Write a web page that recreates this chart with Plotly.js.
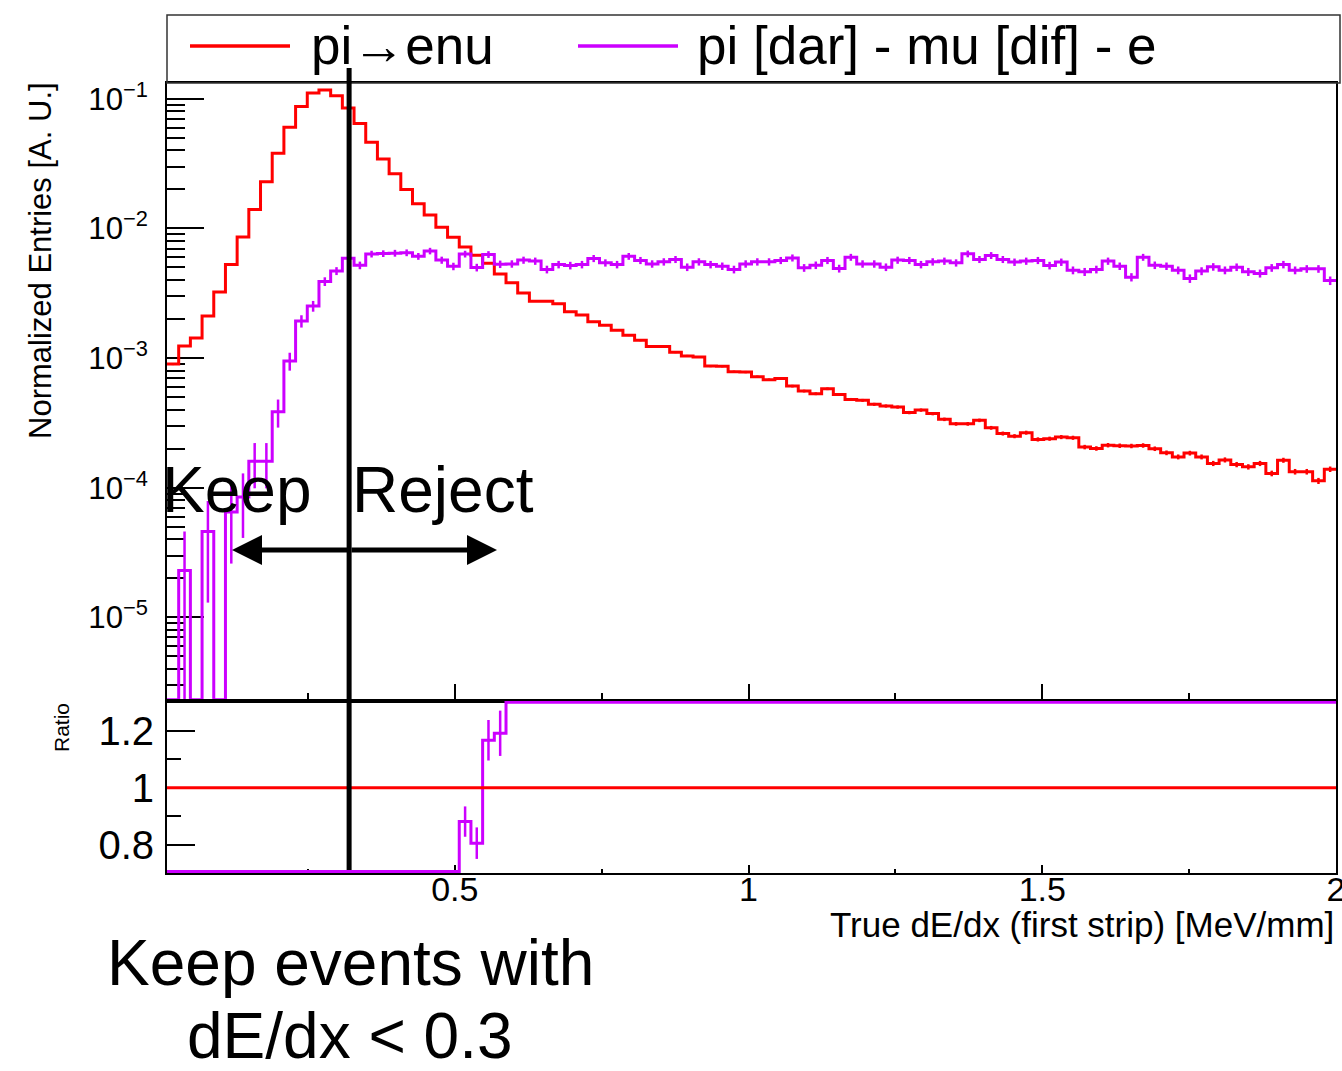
<!DOCTYPE html>
<html>
<head>
<meta charset="utf-8">
<script src="https://cdn.plot.ly/plotly-3.0.1.min.js"></script>
<style>
html,body{margin:0;padding:0;background:#ffffff;}
#chart{width:1342px;height:1071px;}
</style>
</head>
<body>
<div id="chart"></div>
<script>
// ---------------- data ----------------
const xMin = 0.01;
const xMax = 2.0;
const nBins = 100;
const cutValue = 0.32;

const seriesNames = ["pi\u2192enu", "pi [dar] - mu [dif] - e"];

// pi -> e nu, normalized entries per bin
const piEnu = [
  9.0e-4, 1.24e-3, 1.43e-3, 2.11e-3, 3.23e-3, 5.28e-3, 8.6e-3, 1.40e-2, 2.29e-2, 3.80e-2,
  6.04e-2, 8.73e-2, 0.111, 0.117, 0.1055, 0.0848, 0.0646, 0.0463, 0.0344, 0.0264,
  0.0200, 0.0155, 0.0127, 0.0102, 8.55e-3, 7.2e-3, 6.2e-3, 5.4e-3, 4.45e-3, 3.81e-3,
  3.18e-3, 2.75e-3, 2.75e-3, 2.62e-3, 2.28e-3, 2.15e-3, 1.91e-3, 1.79e-3, 1.64e-3, 1.50e-3,
  1.37e-3, 1.23e-3, 1.23e-3, 1.11e-3, 1.04e-3, 1.02e-3, 8.68e-4, 8.65e-4, 7.85e-4, 7.8e-4,
  7.18e-4, 6.81e-4, 6.97e-4, 6.08e-4, 5.57e-4, 5.31e-4, 5.8e-4, 5.25e-4, 4.8e-4, 4.72e-4,
  4.4e-4, 4.27e-4, 4.19e-4, 3.8e-4, 3.97e-4, 3.73e-4, 3.37e-4, 3.11e-4, 3.11e-4, 3.31e-4,
  2.9e-4, 2.62e-4, 2.5e-4, 2.66e-4, 2.36e-4, 2.39e-4, 2.46e-4, 2.43e-4, 2.06e-4, 2.01e-4,
  2.13e-4, 2.11e-4, 2.1e-4, 2.12e-4, 2.0e-4, 1.86e-4, 1.73e-4, 1.85e-4, 1.73e-4, 1.54e-4,
  1.64e-4, 1.51e-4, 1.45e-4, 1.54e-4, 1.29e-4, 1.63e-4, 1.33e-4, 1.33e-4, 1.13e-4, 1.39e-4
];
const piEnuErr = [
  1.7e-5, 2.0e-5, 2.2e-5, 2.6e-5, 3.3e-5, 4.2e-5, 5.3e-5, 6.8e-5, 8.7e-5, 1.12e-4,
  1.41e-4, 1.70e-4, 1.91e-4, 1.96e-4, 1.87e-4, 1.67e-4, 1.46e-4, 1.24e-4, 1.07e-4, 9.3e-5,
  8.1e-5, 7.2e-5, 6.5e-5, 5.8e-5, 5.3e-5, 4.9e-5, 4.5e-5, 4.2e-5, 3.8e-5, 3.5e-5,
  3.2e-5, 3.0e-5, 3.0e-5, 2.9e-5, 2.7e-5, 2.7e-5, 2.5e-5, 2.4e-5, 2.3e-5, 2.2e-5,
  2.1e-5, 2.0e-5, 2.0e-5, 1.9e-5, 1.85e-5, 1.83e-5, 1.69e-5, 1.69e-5, 1.6e-5, 1.6e-5,
  1.54e-5, 1.5e-5, 1.5e-5, 1.42e-5, 1.35e-5, 1.32e-5, 1.38e-5, 1.32e-5, 1.26e-5, 1.25e-5,
  1.2e-5, 1.19e-5, 1.18e-5, 1.12e-5, 1.14e-5, 1.11e-5, 1.05e-5, 1.01e-5, 1.01e-5, 1.04e-5,
  9.8e-6, 9.3e-6, 9.1e-6, 9.4e-6, 8.8e-6, 8.9e-6, 9.0e-6, 8.9e-6, 8.2e-6, 8.1e-6,
  8.4e-6, 8.3e-6, 8.3e-6, 8.4e-6, 8.1e-6, 7.8e-6, 7.6e-6, 7.8e-6, 7.6e-6, 7.1e-6,
  7.4e-6, 7.1e-6, 6.9e-6, 7.1e-6, 6.5e-6, 7.3e-6, 6.6e-6, 6.6e-6, 6.1e-6, 6.8e-6
];

// pi [dar] - mu [dif] - e, normalized entries per bin
const piMuE = [
  0, 2.3e-5, 0, 4.6e-5, 0, 6.5e-5, 8.5e-5, 1.6e-4, 1.6e-4, 3.85e-4,
  9.5e-4, 1.93e-3, 2.52e-3, 3.9e-3, 4.7e-3, 5.9e-3, 5.2e-3, 6.35e-3, 6.4e-3, 6.45e-3,
  6.5e-3, 6.1e-3, 6.7e-3, 5.7e-3, 5.1e-3, 6.35e-3, 5.0e-3, 6.3e-3, 5.3e-3, 5.33e-3,
  5.7e-3, 5.6e-3, 4.83e-3, 5.27e-3, 5.18e-3, 5.27e-3, 5.87e-3, 5.43e-3, 5.27e-3, 6.1e-3,
  5.67e-3, 5.33e-3, 5.53e-3, 5.77e-3, 5.03e-3, 5.53e-3, 5.27e-3, 5.12e-3, 4.83e-3, 5.33e-3,
  5.53e-3, 5.53e-3, 5.67e-3, 5.93e-3, 4.97e-3, 5.21e-3, 5.67e-3, 4.91e-3, 6.0e-3, 5.33e-3,
  5.33e-3, 5.03e-3, 5.7e-3, 5.67e-3, 5.27e-3, 5.53e-3, 5.6e-3, 5.43e-3, 6.37e-3, 5.77e-3,
  6.19e-3, 5.77e-3, 5.5e-3, 5.6e-3, 5.67e-3, 5.18e-3, 5.5e-3, 4.76e-3, 4.63e-3, 4.83e-3,
  5.6e-3, 5.12e-3, 4.21e-3, 6.0e-3, 5.21e-3, 5.12e-3, 4.76e-3, 4.11e-3, 4.69e-3, 5.06e-3,
  4.76e-3, 5.03e-3, 4.63e-3, 4.5e-3, 4.97e-3, 5.27e-3, 4.76e-3, 4.88e-3, 4.88e-3, 3.96e-3
];
const piMuEErr = [
  0, 2.3e-5, 0, 3.3e-5, 0, 3.9e-5, 4.4e-5, 6.1e-5, 6.1e-5, 9.4e-5,
  1.5e-4, 2.1e-4, 2.4e-4, 3.0e-4, 3.3e-4, 3.7e-4, 3.5e-4, 3.8e-4, 3.8e-4, 3.9e-4,
  3.9e-4, 3.7e-4, 3.9e-4, 3.6e-4, 3.4e-4, 3.8e-4, 3.4e-4, 3.8e-4, 3.5e-4, 3.5e-4,
  3.6e-4, 3.6e-4, 3.3e-4, 3.5e-4, 3.5e-4, 3.5e-4, 3.7e-4, 3.5e-4, 3.5e-4, 3.7e-4,
  3.6e-4, 3.5e-4, 3.6e-4, 3.6e-4, 3.4e-4, 3.6e-4, 3.5e-4, 3.4e-4, 3.3e-4, 3.5e-4,
  3.6e-4, 3.6e-4, 3.6e-4, 3.7e-4, 3.4e-4, 3.5e-4, 3.6e-4, 3.4e-4, 3.7e-4, 3.5e-4,
  3.5e-4, 3.4e-4, 3.6e-4, 3.6e-4, 3.5e-4, 3.6e-4, 3.6e-4, 3.5e-4, 3.8e-4, 3.6e-4,
  3.8e-4, 3.6e-4, 3.6e-4, 3.6e-4, 3.6e-4, 3.5e-4, 3.6e-4, 3.3e-4, 3.3e-4, 3.3e-4,
  3.6e-4, 3.4e-4, 3.1e-4, 3.7e-4, 3.5e-4, 3.4e-4, 3.3e-4, 3.1e-4, 3.3e-4, 3.4e-4,
  3.3e-4, 3.4e-4, 3.3e-4, 3.2e-4, 3.4e-4, 3.5e-4, 3.3e-4, 3.3e-4, 3.3e-4, 3.0e-4
];

const xTickVals = [0.5, 1, 1.5, 2];
const xTickText = ["0.5", "1", "1.5", "2"];
const ratioTickVals = [0.8, 1, 1.2];
const ratioTickText = ["0.8", "1", "1.2"];

// ---------------- styling / geometry ----------------
const RED = "#ff0000";
const VIOLET = "#cc00ff";
const FONT = "Liberation Sans, Arial, Helvetica, sans-serif";
const mainLogRange = [-5.645, -0.878];
const ratioRange = [0.702, 1.304];
const mainFloor = Math.pow(10, -5.636);
const ratioLo = 0.707, ratioHi = 1.300;

const binW = (xMax - xMin) / nBins;
const edges = [];
for (let i = 0; i <= nBins; i++) edges.push(xMin + i * binW);
const centers = [];
for (let i = 0; i < nBins; i++) centers.push(xMin + (i + 0.5) * binW);

function stepY(vals, lo, hi) {
  const y = vals.map(v => Math.min(hi, Math.max(lo, v)));
  y.push(y[y.length - 1]);
  return y;
}

// ratio to the pi->enu sample
const ratioMuE = piMuE.map((v, i) => v / piEnu[i]);
const ratioMuEErr = piMuE.map((v, i) => {
  const r = ratioMuE[i];
  if (v <= 0 || r < ratioLo || r > ratioHi) return 0;
  return r * Math.sqrt(Math.pow(piMuEErr[i] / v, 2) + Math.pow(piEnuErr[i] / piEnu[i], 2));
});
const ratioEnu = piEnu.map(v => v / v);

function errTrace(vals, errs, color, xa, ya, lo) {
  const y = vals.map((v, i) => (v > 0 && errs[i] > 0) ? v : null);
  const minus = vals.map((v, i) => Math.min(errs[i], v - lo * 0.01));
  return {
    type: "scatter", mode: "markers", x: centers, y: y, xaxis: xa, yaxis: ya,
    marker: {size: 0.1, color: color},
    error_y: {type: "data", symmetric: false, array: errs, arrayminus: minus,
              color: color, thickness: 2.5, width: 0, visible: true},
    hoverinfo: "skip", showlegend: false
  };
}

const traces = [
  {type: "scatter", mode: "lines", x: edges, y: stepY(piEnu, mainFloor, 1),
   line: {shape: "hv", color: RED, width: 3}, xaxis: "x", yaxis: "y", name: seriesNames[0], hoverinfo: "skip"},
  errTrace(piEnu, piEnuErr, RED, "x", "y", 1e-9),
  {type: "scatter", mode: "lines", x: edges, y: stepY(piMuE, mainFloor, 1),
   line: {shape: "hv", color: VIOLET, width: 3}, xaxis: "x", yaxis: "y", name: seriesNames[1], hoverinfo: "skip"},
  errTrace(piMuE, piMuEErr, VIOLET, "x", "y", 1e-9),
  // ratio panel
  {type: "scatter", mode: "lines", x: edges, y: stepY(ratioMuE, ratioLo, ratioHi),
   line: {shape: "hv", color: VIOLET, width: 3}, xaxis: "x2", yaxis: "y2", hoverinfo: "skip"},
  {type: "scatter", mode: "markers", x: centers,
   y: ratioMuE.map((r, i) => ratioMuEErr[i] > 0 ? r : null), xaxis: "x2", yaxis: "y2",
   marker: {size: 0.1, color: VIOLET},
   error_y: {type: "data", array: ratioMuEErr, color: VIOLET, thickness: 2.5, width: 0, visible: true},
   hoverinfo: "skip"},
  {type: "scatter", mode: "lines", x: edges, y: stepY(ratioEnu, ratioLo, ratioHi),
   line: {shape: "hv", color: RED, width: 3}, xaxis: "x2", yaxis: "y2", hoverinfo: "skip"}
];

const L = 167, R = 1336, T = 83, B = 873, W = 1342, H = 1071;
const px = p => (p - L) / (R - L);
const py = p => (B - p) / (B - T);
const ratioTop = py(701);

const axLine = {showline: true, mirror: true, linecolor: "black", linewidth: 2,
                showgrid: false, zeroline: false, layer: "below traces"};

const layout = {
  width: W, height: H,
  margin: {l: L, r: W - R, t: T, b: H - B, pad: 0},
  paper_bgcolor: "white", plot_bgcolor: "white",
  showlegend: false, hovermode: false,
  font: {family: FONT, color: "black"},
  xaxis: Object.assign({}, axLine, {
    domain: [0, 1], anchor: "y", range: [xMin, xMax],
    tickmode: "array", tickvals: xTickVals, ticktext: xTickText, showticklabels: false,
    ticks: "inside", ticklen: 17, tickwidth: 2, tickcolor: "black",
    minor: {tickmode: "linear", tick0: 0, dtick: 0.25, ticks: "inside", ticklen: 8, tickwidth: 2, tickcolor: "black", showgrid: false}
  }),
  yaxis: Object.assign({}, axLine, {
    domain: [ratioTop, 1], anchor: "x", type: "log", range: mainLogRange,
    dtick: 1, exponentformat: "power", showexponent: "all",
    ticks: "inside", ticklen: 37, tickwidth: 2, tickcolor: "black",
    tickfont: {family: FONT, size: 25, color: "black"}, ticklabelstandoff: 12,
    minor: {dtick: "D1", ticks: "inside", ticklen: 18, tickwidth: 2, tickcolor: "black", showgrid: false}
  }),
  xaxis2: Object.assign({}, axLine, {
    domain: [0, 1], anchor: "y2", range: [xMin, xMax], matches: "x",
    tickmode: "array", tickvals: xTickVals, ticktext: xTickText,
    ticks: "inside", ticklen: 8, tickwidth: 2, tickcolor: "black",
    tickfont: {family: FONT, size: 34, color: "black"},
    ticklabelstandoff: -15, ticklabeloverflow: "allow",
    minor: {tickmode: "linear", tick0: 0, dtick: 0.25, ticks: "inside", ticklen: 4, tickwidth: 2, tickcolor: "black", showgrid: false}
  }),
  yaxis2: Object.assign({}, axLine, {
    domain: [0, ratioTop], anchor: "x2", range: ratioRange,
    tickmode: "array", tickvals: ratioTickVals, ticktext: ratioTickText,
    ticks: "inside", ticklen: 28, tickwidth: 2, tickcolor: "black",
    tickfont: {family: FONT, size: 40, color: "black"}, ticklabelstandoff: 3,
    minor: {tickmode: "linear", tick0: 0, dtick: 0.1, ticks: "inside", ticklen: 14, tickwidth: 2, tickcolor: "black", showgrid: false}
  }),
  shapes: [
    {type: "rect", xref: "paper", yref: "paper", x0: 0, x1: px(1340), y0: py(83), y1: py(15),
     line: {color: "#333333", width: 1.5}, layer: "above"},
    {type: "line", xref: "paper", yref: "paper", x0: px(190), x1: px(290), y0: py(46), y1: py(46),
     line: {color: RED, width: 3.5}},
    {type: "line", xref: "paper", yref: "paper", x0: px(578), x1: px(678), y0: py(46), y1: py(46),
     line: {color: VIOLET, width: 3.5}},
    {type: "line", xref: "x", yref: "paper", x0: cutValue, x1: cutValue, y0: py(870), y1: py(68),
     line: {color: "black", width: 5}, layer: "above"}
  ],
  annotations: [
    {xref: "paper", yref: "paper", x: px(309), y: py(46), xanchor: "left", yanchor: "middle",
     text: seriesNames[0], showarrow: false, font: {family: FONT, size: 53, color: "black"}},
    {xref: "paper", yref: "paper", x: px(695), y: py(46), xanchor: "left", yanchor: "middle",
     text: seriesNames[1], showarrow: false, font: {family: FONT, size: 53, color: "black"}},
    {xref: "paper", yref: "paper", x: px(160), y: py(490), xanchor: "left", yanchor: "middle",
     text: "Keep", showarrow: false, font: {family: FONT, size: 64, color: "black"}},
    {xref: "paper", yref: "paper", x: px(350), y: py(490), xanchor: "left", yanchor: "middle",
     text: "Reject", showarrow: false, font: {family: FONT, size: 64, color: "black"}},
    {xref: "paper", yref: "paper", x: px(232), y: py(550), ax: 118, ay: 0, text: "",
     showarrow: true, arrowhead: 2, arrowsize: 1.2, arrowwidth: 5, arrowcolor: "black", standoff: 0},
    {xref: "paper", yref: "paper", x: px(497), y: py(550), ax: -147, ay: 0, text: "",
     showarrow: true, arrowhead: 2, arrowsize: 1.2, arrowwidth: 5, arrowcolor: "black", standoff: 0},
    {xref: "paper", yref: "paper", x: px(1336), y: py(925), xanchor: "right", yanchor: "middle",
     text: "True dE/dx (first strip) [MeV/mm]", showarrow: false, font: {family: FONT, size: 35, color: "black"}},
    {xref: "paper", yref: "paper", x: px(40), y: py(261), xanchor: "center", yanchor: "middle", textangle: -90,
     text: "Normalized Entries [A. U.]", showarrow: false, font: {family: FONT, size: 31, color: "black"}},
    {xref: "paper", yref: "paper", x: px(61), y: py(728), xanchor: "center", yanchor: "middle", textangle: -90,
     text: "Ratio", showarrow: false, font: {family: FONT, size: 21, color: "black"}},
    {xref: "paper", yref: "paper", x: px(350), y: py(963), xanchor: "center", yanchor: "middle",
     text: "Keep events with", showarrow: false, font: {family: FONT, size: 64, color: "black"}},
    {xref: "paper", yref: "paper", x: px(350), y: py(1036), xanchor: "center", yanchor: "middle",
     text: "dE/dx &lt; 0.3", showarrow: false, font: {family: FONT, size: 64, color: "black"}}
  ]
};

Plotly.newPlot("chart", traces, layout, {staticPlot: true, displayModeBar: false});
</script>
</body>
</html>
